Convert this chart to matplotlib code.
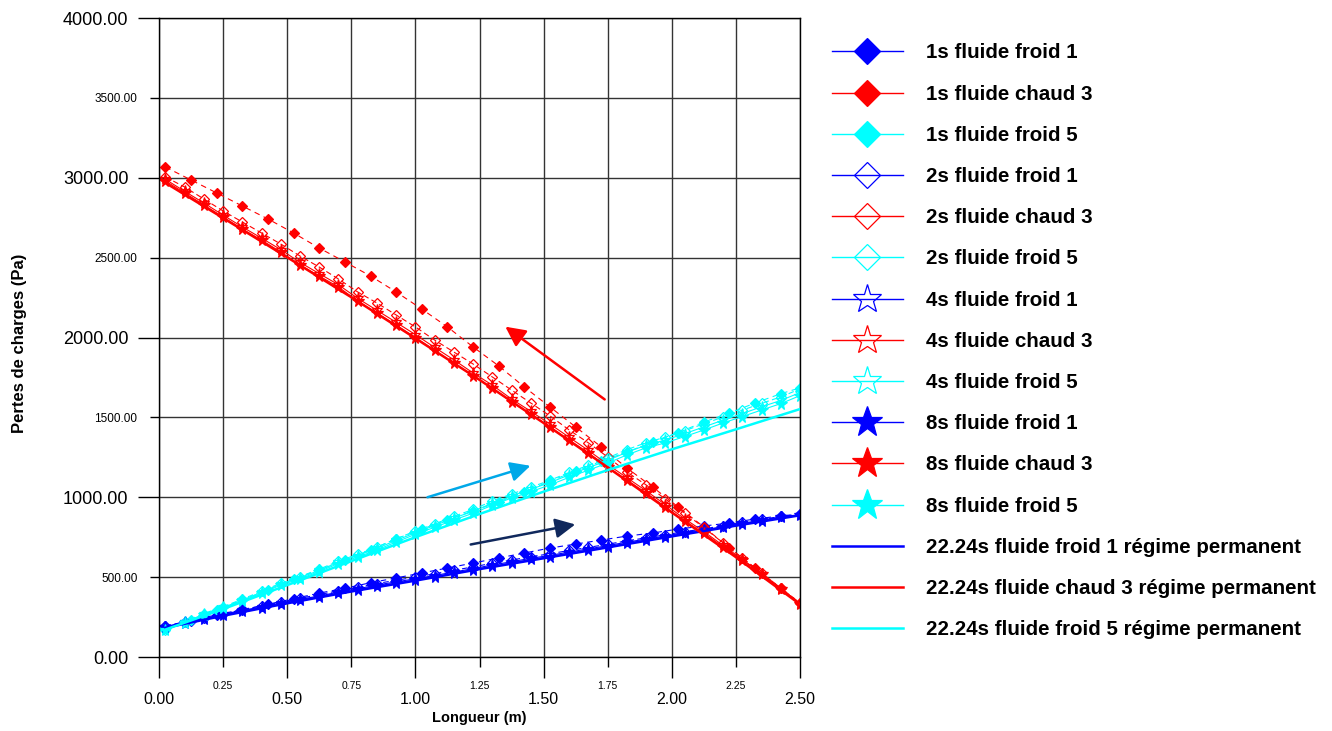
import matplotlib
matplotlib.use("Agg")
import matplotlib.pyplot as plt
from matplotlib.lines import Line2D
from matplotlib.ticker import MultipleLocator, FormatStrFormatter

# x positions (m)
x_1s = [0.025, 0.125, 0.225, 0.325, 0.425, 0.525, 0.625, 0.725, 0.825, 0.925,
        1.025, 1.125, 1.225, 1.325, 1.425, 1.525, 1.625, 1.725, 1.825, 1.925,
        2.025, 2.125, 2.225, 2.325, 2.425, 2.5]
x_fin = [0.025, 0.1, 0.175, 0.25, 0.325, 0.4, 0.475, 0.55, 0.625, 0.7, 0.775,
         0.85, 0.925, 1.0, 1.075, 1.15, 1.225, 1.3, 1.375, 1.45, 1.525, 1.6,
         1.675, 1.75, 1.825, 1.9, 1.975, 2.05, 2.125, 2.2, 2.275, 2.35, 2.425, 2.5]
x_ss = [0.025, 0.25, 0.5, 0.75, 1.0, 1.25, 1.5, 1.75, 2.0, 2.25, 2.5]

# fluide froid 1 (blue)
froid1_1s = [195, 225, 260, 295, 330, 365, 400, 430, 465, 495, 526, 557, 588,
             620, 651, 682, 707, 732, 757, 776, 801, 820, 839, 864, 883, 895]
froid1_2s = [192, 221, 247, 272, 298, 318, 344, 368, 390, 415, 436, 460, 480,
             500, 521, 543, 564, 587, 607, 628, 646, 667, 686, 706, 727, 746,
             765, 785, 802, 822, 842, 861, 880, 893]
froid1_4s = [190, 218, 242, 267, 293, 312, 337, 361, 382, 406, 427, 451, 470,
             490, 510, 532, 553, 576, 596, 618, 636, 657, 677, 697, 719, 738,
             757, 779, 796, 816, 837, 857, 877, 891]
froid1_8s = [188, 215, 238, 262, 290, 307, 332, 355, 376, 400, 420, 444, 463,
             482, 501, 524, 545, 568, 588, 611, 628, 650, 670, 689, 712, 732,
             751, 774, 790, 812, 833, 853, 874, 890]
froid1_ss = [183, 258, 336, 410, 478, 550, 618, 686, 755, 822, 887]

# fluide chaud 3 (red)
chaud3_1s = [3067, 2986, 2905, 2823, 2742, 2654, 2560, 2473, 2385, 2285, 2178,
             2066, 1941, 1822, 1690, 1565, 1440, 1315, 1183, 1064, 939, 814,
             682, 557, 432, 338]
chaud3_2s = [3005, 2942, 2867, 2792, 2723, 2654, 2585, 2510, 2441, 2366, 2285,
             2216, 2141, 2066, 1984, 1909, 1834, 1753, 1671, 1590, 1509, 1421,
             1340, 1252, 1158, 1077, 989, 901, 810, 714, 620, 526, 432, 338]
chaud3_4s = [2990, 2915, 2842, 2766, 2692, 2622, 2550, 2470, 2400, 2330, 2245,
             2170, 2095, 2018, 1938, 1860, 1778, 1702, 1615, 1538, 1458, 1375,
             1293, 1205, 1122, 1040, 953, 865, 785, 698, 612, 522, 428, 334]
chaud3_8s = [2980, 2905, 2830, 2754, 2679, 2610, 2535, 2454, 2385, 2316, 2228,
             2153, 2078, 2000, 1920, 1840, 1759, 1684, 1596, 1521, 1440, 1358,
             1277, 1189, 1108, 1027, 939, 851, 776, 689, 607, 520, 426, 332]
chaud3_ss = [2968, 2748, 2502, 2252, 1995, 1735, 1465, 1187, 905, 625, 330]

# fluide froid 5 (cyan)
froid5_1s = [181, 232, 294, 357, 419, 488, 545, 607, 670, 740, 800, 860, 914,
             970, 1035, 1100, 1165, 1225, 1283, 1346, 1405, 1471, 1527, 1590,
             1648, 1685]
froid5_2s = [171, 222, 272, 315, 362, 412, 462, 503, 550, 600, 643, 688, 740,
             788, 833, 880, 924, 976, 1020, 1063, 1106, 1156, 1200, 1246, 1298,
             1342, 1376, 1416, 1460, 1502, 1545, 1588, 1628, 1678]
froid5_4s = [170, 218, 268, 310, 356, 406, 456, 497, 542, 593, 635, 680, 730,
             778, 823, 870, 912, 963, 1008, 1050, 1092, 1140, 1186, 1230, 1282,
             1326, 1358, 1398, 1440, 1483, 1524, 1566, 1606, 1655]
froid5_8s = [169, 215, 265, 305, 350, 400, 450, 490, 535, 585, 626, 670, 720,
             768, 812, 858, 900, 950, 995, 1035, 1077, 1125, 1170, 1214, 1265,
             1310, 1340, 1380, 1421, 1465, 1505, 1546, 1586, 1636]
froid5_ss = [172, 300, 450, 600, 750, 895, 1035, 1170, 1300, 1425, 1552]

BLUE, RED, CYAN = "#0000FF", "#FF0000", "#00FFFF"
FONT = "Liberation Sans"

fig = plt.figure(figsize=(13.32, 7.31), dpi=100)
ax = fig.add_axes([159 / 1332, 1 - 657 / 731, 641 / 1332, 639 / 731])

series = [
    ("1s", x_1s, [froid1_1s, chaud3_1s, froid5_1s], dict(marker="D", ms=5, mfc=None, ls=(0, (5, 4)))),
    ("2s", x_fin, [froid1_2s, chaud3_2s, froid5_2s], dict(marker="D", ms=5, mfc="none", ls=(0, (5, 3)))),
    ("4s", x_fin, [froid1_4s, chaud3_4s, froid5_4s], dict(marker="*", ms=8, mfc="none", ls="-")),
    ("8s", x_fin, [froid1_8s, chaud3_8s, froid5_8s], dict(marker="*", ms=8.5, mfc=None, ls="-")),
]
names = ["fluide froid 1", "fluide chaud 3", "fluide froid 5"]
colors = [BLUE, RED, CYAN]

handles, labels = [], []
for t, xs, ys_list, st in series:
    for ys, c, nm in zip(ys_list, colors, names):
        mfc = c if st["mfc"] is None else st["mfc"]
        ax.plot(xs, ys, color=c, lw=0.8, ls=st["ls"], marker=st["marker"],
                ms=st["ms"], mfc=mfc, mec=c, mew=0.9)
        # solid line in the legend, as in the original
        handles.append(Line2D([], [], color=c, lw=1, marker=st["marker"],
                              ms=st["ms"] * 1.05, mfc=mfc, mec=c, mew=0.9))
        labels.append(f"{t} {nm}")

for ys, c, nm in zip([froid1_ss, chaud3_ss, froid5_ss], colors, names):
    h, = ax.plot(x_ss, ys, color=c, lw=1.8, zorder=5)
    handles.append(h)
    labels.append(f"22.24s {nm} régime permanent")

# arrows
ax.annotate("", xy=(1.342, 2078), xytext=(1.747, 1602),
            arrowprops=dict(arrowstyle="-|>", color=RED, lw=1.8, mutation_scale=30))
ax.annotate("", xy=(1.459, 1202), xytext=(1.037, 995),
            arrowprops=dict(arrowstyle="-|>", color="#00A8E8", lw=1.8, mutation_scale=30))
ax.annotate("", xy=(1.634, 833), xytext=(1.205, 701),
            arrowprops=dict(arrowstyle="-|>", color="#10285C", lw=1.8, mutation_scale=30))

ax.set_xlim(0, 2.5)
ax.set_ylim(0, 4000)
ax.xaxis.set_major_locator(MultipleLocator(0.5))
ax.xaxis.set_minor_locator(MultipleLocator(0.25))
ax.yaxis.set_major_locator(MultipleLocator(1000))
ax.yaxis.set_minor_locator(MultipleLocator(500))
for axis in (ax.xaxis, ax.yaxis):
    axis.set_major_formatter(FormatStrFormatter("%.2f"))
    axis.set_minor_formatter(FormatStrFormatter("%.2f"))

ax.grid(True, which="both", color="#333333", lw=1)
ax.set_axisbelow(True)
for s in ax.spines.values():
    s.set_color("black")
    s.set_linewidth(1)

ax.tick_params(axis="x", which="major", length=15, width=1, labelsize=11.5, pad=10)
ax.tick_params(axis="x", which="minor", length=7.5, width=1, labelsize=7.5, pad=10)
ax.tick_params(axis="y", which="major", length=15, width=1, labelsize=13, pad=7)
ax.tick_params(axis="y", which="minor", length=6.5, width=1, labelsize=8.5, pad=9)
for lab in ax.get_xticklabels(which="both") + ax.get_yticklabels(which="both"):
    lab.set_family(FONT)

ax.set_xlabel("Longueur (m)", fontsize=10.5, fontweight="bold", family=FONT, labelpad=3)
fig.text(20 / 1332, 1 - 343 / 731, "Pertes de charges (Pa)", rotation=90,
         ha="center", va="center", fontsize=12, fontweight="bold", family=FONT)

fig.legend(handles, labels, loc="upper left", bbox_to_anchor=(813 / 1332, 1 - 25 / 731),
           frameon=False, prop=dict(family=FONT, weight="bold", size=14.8),
           markerscale=2.6, handlelength=3.5, labelspacing=1.08, handletextpad=1.1)

fig.savefig("out.png", dpi=100)
